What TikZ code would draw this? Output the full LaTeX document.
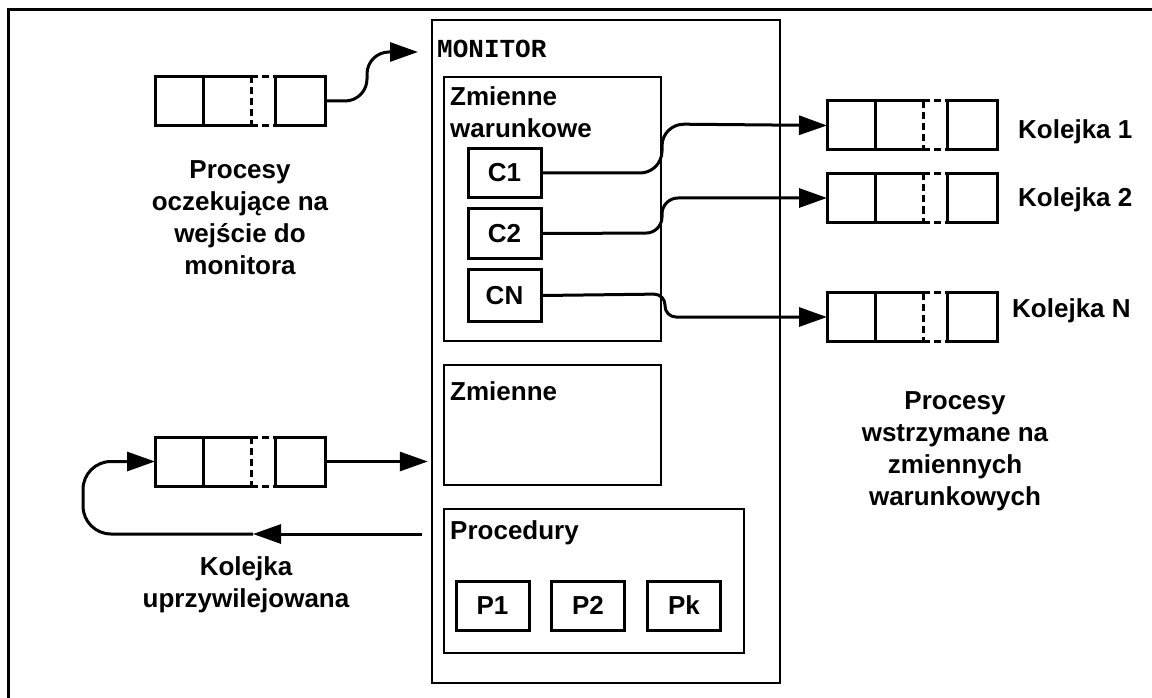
\documentclass[tikz,border=0pt]{standalone}
\usepackage{fontspec}
\setmainfont{Liberation Sans}
\setmonofont{Liberation Mono}
\usetikzlibrary{arrows.meta}
\tikzset{
  lbl/.style={font=\fontsize{26}{32}\selectfont\bfseries, inner sep=0pt},
  cell/.style={minimum width=48pt, minimum height=49pt, inner sep=0pt, outer sep=0pt},
  thickln/.style={line width=3pt},
  thinbox/.style={draw, line width=1.5pt},
  varbox/.style={draw, line width=3pt, minimum width=73pt, minimum height=49pt, inner sep=0pt,
    font=\fontsize{26}{32}\selectfont\bfseries},
  arr/.style={line width=3pt, -{Triangle[length=28pt,width=19pt]}},
  dsh/.style={line width=3pt, dash pattern=on 7pt off 4pt},
}
\newcommand\kolejka[3]{%
  \node[cell, draw, thickln] (#1a) at (#2+24,#3) {};
  \node[cell] (#1b) at (#2+72,#3) {};
  \node[cell, draw, thickln, minimum width=50pt] (#1c) at (#2+145,#3) {};
  \draw[thickln] (#1b.north east) -- (#1b.north west) -- (#1b.south west) -- (#1b.south east);
  \draw[dsh] (#1b.north east) -- (#1c.north west) (#1b.south east) -- (#1c.south west)
             (#1b.north east) -- (#1b.south east);
}
\begin{document}
\begin{tikzpicture}[x=1pt,y=-1pt]
\useasboundingbox (0,0) rectangle (1152,698);
% outer frame
\draw[line width=3pt] (8,698) -- (8,10) -- (1152,10);

% monitor
\draw[line width=1.5pt] (432,20) rectangle (780,683);
\node (mon) at (606,351.5) [minimum width=348pt, minimum height=663pt, inner sep=0pt] {};
\node[inner sep=0pt, anchor=base west, font=\fontsize{26}{32}\selectfont\ttfamily\bfseries] (montxt) at (437,58) {MONITOR};

% inner boxes
\node[thinbox, minimum width=217pt, minimum height=264pt, inner sep=0pt] (zw) at (552.5,209) {};
\node[thinbox, minimum width=217pt, minimum height=120pt, inner sep=0pt] (zm) at (552.5,425) {};
\node[thinbox, minimum width=300pt, minimum height=144pt, inner sep=0pt] (pr) at (594,581) {};

\node[lbl, align=left, anchor=north west] (zwt) at (450,86) {Zmienne\\warunkowe};
\node[lbl, anchor=north west] (zmt) at (450,381) {Zmienne};
\node[lbl, anchor=north west] (prt) at (450,520) {Procedury};

% condition variables
\node[varbox] (c1) at (504.5,173) {C1};
\node[varbox] (c2) at (504.5,233.5) {C2};
\node[varbox, minimum height=52pt] (cn) at (504.5,295.5) {CN};

% procedures
\node[varbox] (p1) at (492.5,605.5) {P1};
\node[varbox] (p2) at (588,605.5) {P2};
\node[varbox] (pk) at (684,605.5) {Pk};

% queues
\kolejka{q0}{155}{101}
\kolejka{k1}{827}{125.5}
\kolejka{k2}{827}{198}
\kolejka{kn}{827}{317}
\kolejka{qp}{155}{461.5}

% labels
\node[lbl, anchor=west] (l1) at (1018,132) {Kolejka 1};
\node[lbl, anchor=west] (l2) at (1018,200) {Kolejka 2};
\node[lbl, anchor=west] (ln) at (1012,311) {Kolejka N};
\node[lbl, align=center] (tin) at (240,218) {Procesy\\oczekujące na\\wejście do\\monitora};
\node[lbl, align=center] (tcw) at (955,451) {Procesy\\wstrzymane na\\zmiennych\\warunkowych};
\node[lbl, align=center] (tpr) at (246,585) {Kolejka\\uprzywilejowana};

% connectors
\coordinate (monin) at (418,52);
\draw[arr, rounded corners=22pt] (q0c.east) -- (367,101) -- (367,52) -- (monin);

\draw[arr, rounded corners=22pt] (c1.east) -- (662,173) -- (662,124) -- (k1a.west);
\draw[arr, rounded corners=16pt] (c2.east) -- (662,233) -- (662,198) -- (k2a.west);
\draw[arr, rounded corners=11pt] (cn.east) -- (665,294) -- (665,317) -- (kna.west);

\draw[arr, shorten >=4pt] (qpc.east) -- (mon.west |- qpc.east);
\coordinate (retstart) at (422,534);
\coordinate (retmid) at (253,534);
\draw[arr] (retstart) -- (retmid);
\draw[arr, rounded corners=28pt] (retmid) -- (83,534) -- (83,461.5) -- (qpa.west);
\end{tikzpicture}
\end{document}
